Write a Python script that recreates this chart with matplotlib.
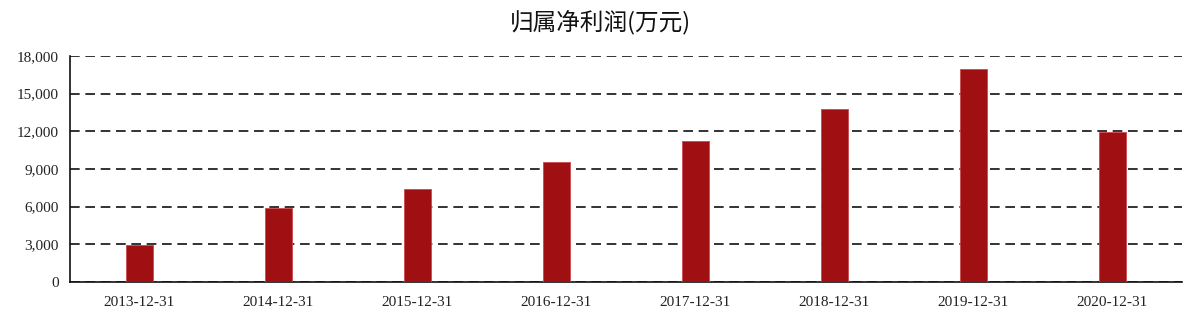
import matplotlib
matplotlib.use("Agg")
import matplotlib.pyplot as plt
from matplotlib.ticker import FuncFormatter, MultipleLocator

categories = ["2013-12-31", "2014-12-31", "2015-12-31", "2016-12-31",
              "2017-12-31", "2018-12-31", "2019-12-31", "2020-12-31"]
values = [2950, 5900, 7400, 9550, 11230, 13760, 17000, 11920]
title = "归属净利润(万元)"

fig = plt.figure(figsize=(12, 3.23), dpi=100)
ax = fig.add_axes([0.0583, 0.127, 0.9267, 0.6996])

x = list(range(len(categories)))
ax.bar(x, values, width=0.195, color="#A01012", edgecolor="#C84A4C", linewidth=0.6, zorder=3)

ax.set_xlim(-0.5, len(categories) - 0.5)
ax.set_ylim(0, 18000)
ax.yaxis.set_major_locator(MultipleLocator(3000))
ax.yaxis.set_major_formatter(FuncFormatter(lambda v, p: f"{int(v):,}"))
ax.set_xticks(x)
ax.set_xticklabels(categories)

ax.grid(axis="y", linestyle=(0, (5.8, 3.4)), color="#111111", linewidth=1.2, zorder=0)
ax.set_axisbelow(True)
for s in ["top", "right"]:
    ax.spines[s].set_visible(False)
ax.spines["left"].set_color("#111111")
ax.spines["bottom"].set_color("#111111")
ax.spines["left"].set_linewidth(1.2)
ax.spines["bottom"].set_linewidth(1.2)
ax.tick_params(axis="both", length=0, pad=8, labelsize=11, labelcolor="#222222")
for lab in ax.get_xticklabels() + ax.get_yticklabels():
    lab.set_fontfamily("Liberation Serif")
ax.tick_params(axis="x", pad=10)

fig.text(0.5, 0.932, title, ha="center", va="center", fontsize=17,
         family=["Noto Sans CJK SC", "DejaVu Sans"], color="#111111")

fig.savefig("out.png", dpi=100)
